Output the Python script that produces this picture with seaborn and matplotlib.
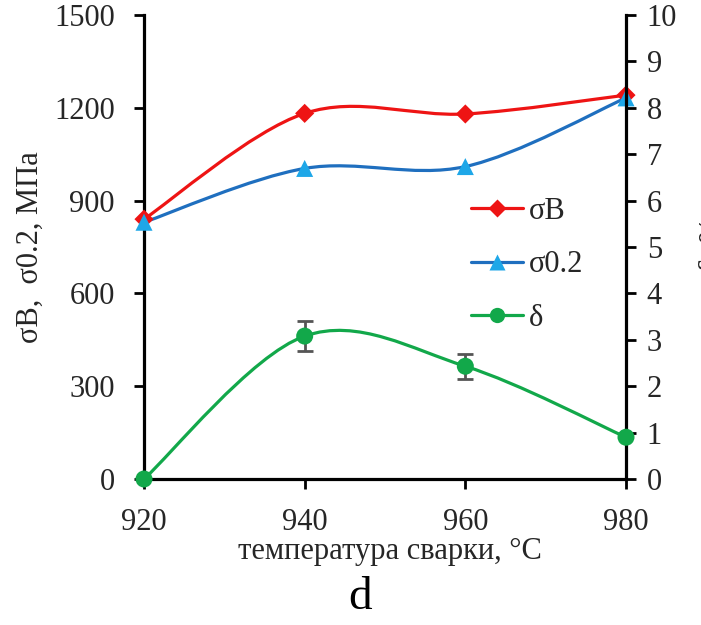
import matplotlib
matplotlib.use("Agg")
import matplotlib.pyplot as plt
import seaborn as sns
import numpy as np
import pandas as pd
from matplotlib.path import Path
from matplotlib.patches import PathPatch
from matplotlib.lines import Line2D

# ---- data ----
temps = [920, 940, 960, 980]
sigma_b = [840, 1182, 1180, 1241]
sigma_02 = [830, 1004, 1010, 1232]
delta = [0.0, 3.08, 2.43, 0.9]
delta_err = [0.0, 0.32, 0.27, 0.0]

left_ticks = [0, 300, 600, 900, 1200, 1500]
right_ticks = list(range(0, 11))
x_ticks = [920, 940, 960, 980]

RED = "#ee1414"
BLUE_LINE = "#1f6fbf"
BLUE_MK = "#1ea7e8"
GREEN = "#12a84a"
TXT = "#262626"

sns.set_theme(style="white")
plt.rcParams["font.family"] = ["Liberation Serif", "DejaVu Serif"]

W, H = 701, 625
fig = plt.figure(figsize=(W / 100, H / 100), dpi=100)
L, R, T, B = 144, 626, 15, 479
ax = fig.add_axes([L / W, 1 - B / H, (R - L) / W, (B - T) / H])
ax2 = ax.twinx()


def smooth_patch(axis, xs, ys, color, lw):
    pts = np.column_stack([xs, ys]).astype(float)
    n = len(pts)
    verts = [tuple(pts[0])]
    codes = [Path.MOVETO]
    for i in range(n - 1):
        p0 = pts[i - 1] if i > 0 else pts[i]
        p1 = pts[i]
        p2 = pts[i + 1]
        p3 = pts[i + 2] if i + 2 < n else pts[i + 1]
        c1 = p1 + (p2 - p0) / 6.0
        c2 = p2 - (p3 - p1) / 6.0
        verts += [tuple(c1), tuple(c2), tuple(p2)]
        codes += [Path.CURVE4] * 3
    patch = PathPatch(Path(verts, codes), fill=False, edgecolor=color, lw=lw,
                      transform=axis.transData, clip_on=False, zorder=2,
                      capstyle="round", joinstyle="round")
    axis.add_patch(patch)


lw = 2.3
df = pd.DataFrame({"t": temps, "sb": sigma_b, "s02": sigma_02, "d": delta})

smooth_patch(ax, temps, sigma_b, RED, lw)
smooth_patch(ax, temps, sigma_02, BLUE_LINE, lw)
sns.scatterplot(data=df, x="t", y="sb", ax=ax, marker="D", s=95, color=RED,
                edgecolor="none", clip_on=False, zorder=3, legend=False)
sns.scatterplot(data=df, x="t", y="s02", ax=ax, marker="^", s=150, color=BLUE_MK,
                edgecolor="none", clip_on=False, zorder=3, legend=False)

smooth_patch(ax2, temps, delta, GREEN, lw)
ax2.errorbar(temps[1:3], delta[1:3], yerr=delta_err[1:3], fmt="none",
             ecolor="#555555", elinewidth=2, capsize=6, capthick=2, zorder=3)
sns.scatterplot(data=df, x="t", y="d", ax=ax2, marker="o", s=150, color=GREEN,
                edgecolor="none", clip_on=False, zorder=4, legend=False)

ax.set_xlim(920, 980)
ax.set_ylim(0, 1500)
ax2.set_ylim(0, 10)
ax.set_xticks(x_ticks)
ax.set_yticks(left_ticks)
ax2.set_yticks(right_ticks)
ax.set_xlabel("")
ax.set_ylabel("")
ax2.set_xlabel("")
ax2.set_ylabel("")

for a in (ax, ax2):
    for s in a.spines.values():
        s.set_linewidth(2.3)
        s.set_color("black")
    a.spines["top"].set_visible(False)
ax.spines["right"].set_visible(False)
ax2.spines["left"].set_visible(False)
ax2.spines["bottom"].set_visible(False)

ax.tick_params(axis="y", direction="out", length=7, width=2, colors="black",
               labelcolor=TXT, labelsize=22, pad=14, left=True)
ax.tick_params(axis="x", direction="out", length=7, width=2, colors="black",
               labelcolor=TXT, labelsize=22, pad=14, bottom=True)
ax2.tick_params(axis="y", direction="out", length=7, width=2, colors="black",
                labelcolor=TXT, labelsize=22, pad=8, right=True)
ax.grid(False)
ax2.grid(False)

fig.text(30 / W, 1 - 247 / H, "σB,  σ0.2, МПа", rotation=90, ha="center",
         va="center", fontsize=22, color=TXT)
fig.text(390 / W, 1 - 552 / H, "температура сварки, °C", ha="center",
         va="center", fontsize=22, color=TXT)
fig.text(360 / W, 1 - 598 / H, "d", ha="center", va="center", fontsize=34,
         color="black")
fig.text(699 / W, 1 - 245 / H, "δ, %", rotation=90, ha="left", va="center",
         fontsize=22, color=TXT)

handles = [
    Line2D([], [], color=RED, lw=lw, marker="D", ms=9, mec="none", mfc=RED),
    Line2D([], [], color=BLUE_LINE, lw=lw, marker="^", ms=11, mec="none", mfc=BLUE_MK),
    Line2D([], [], color=GREEN, lw=lw, marker="o", ms=11, mec="none", mfc=GREEN),
]
fig.legend(handles, ["σB", "σ0.2", "δ"], loc="center left",
           bbox_to_anchor=(456 / W, 1 - 265 / H), frameon=False, borderpad=0,
           handlelength=1.7, handletextpad=0.2, labelspacing=0.8, fontsize=22,
           labelcolor=TXT)

fig.savefig("out.png", dpi=100)
